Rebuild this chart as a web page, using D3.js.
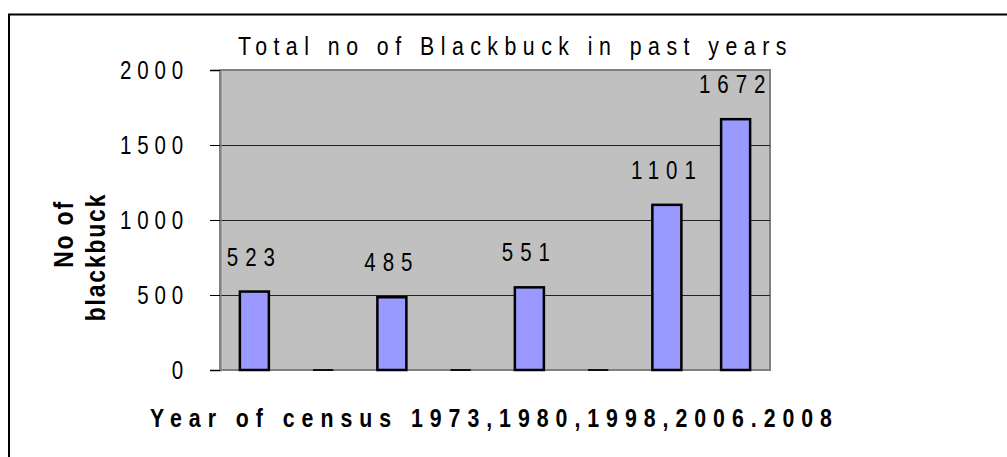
<!DOCTYPE html>
<head>
  <meta charset="utf-8">
  <script src="https://d3js.org/d3.v7.min.js"></script>
</head>
<body>
  <div id="chart"></div>

  <script>
    var width = 1007;
    var height = 457;

    // census columns (empty ones are the gaps between the census years)
    var categories = ['c1', 'c2', 'c3', 'c4', 'c5', 'c6', 'c7', 'c8'];
    var values = [523, 0, 485, 0, 551, 0, 1101, 1672];
    var yTicks = [0, 500, 1000, 1500, 2000];

    var title = 'Total no of Blackbuck in past years';
    var xTitle = 'Year of census 1973,1980,1998,2006.2008';
    var yTitle = ['No of', 'blackbuck'];

    var data = categories.map((c, i) => ({category: c, value: values[i]}));

    // no narrow font installed, so squeeze the glyphs sideways instead
    var font = "'Liberation Sans', Arial, sans-serif";
    var squeeze = 'scale(0.82,1)';

    // plot area inside the frame
    var plot = {left: 220, top: 70, right: 770, bottom: 370};

    var svg = d3.select('#chart')
      .append('svg')
        .attr('width', width)
        .attr('height', height);

    // outer frame, runs off the picture at right and bottom
    svg.append('rect')
      .attr('x', 9)
      .attr('y', 14.5)
      .attr('width', width + 20)
      .attr('height', height + 20)
      .attr('fill', 'white')
      .attr('stroke', 'black')
      .attr('stroke-width', 2);

    var x = d3.scaleBand()
      .domain(categories)
      .range([plot.left, plot.right])
      .paddingInner(0.578)
      .paddingOuter(0.289);

    var y = d3.scaleLinear()
      .domain([0, 2000])
      .range([plot.bottom, plot.top]);

    // grey plot background
    svg.append('rect')
      .attr('x', plot.left)
      .attr('y', plot.top)
      .attr('width', plot.right - plot.left)
      .attr('height', plot.bottom - plot.top)
      .attr('fill', '#c0c0c0')
      .attr('stroke', '#808080')
      .attr('stroke-width', 2);

    // gridlines
    svg.append('g')
      .selectAll('line')
      .data(yTicks.filter(t => t > 0 && t < 2000))
      .join('line')
        .attr('x1', plot.left)
        .attr('x2', plot.right)
        .attr('y1', d => Math.round(y(d)) + 0.5)
        .attr('y2', d => Math.round(y(d)) + 0.5)
        .attr('stroke', '#222')
        .attr('stroke-width', 1);

    // y axis
    var yAxis = d3.axisLeft(y)
      .tickValues(yTicks)
      .tickSize(10)
      .tickPadding(18)
      .tickFormat(d3.format('d'));

    var ya = svg.append('g')
      .attr('transform', 'translate(' + plot.left + ',0)')
      .call(yAxis);
    ya.select('.domain').attr('stroke', '#808080').attr('stroke-width', 2);
    ya.selectAll('.tick line').attr('stroke', 'black');
    ya.selectAll('.tick text')
      .attr('x', 0)
      .attr('transform', 'translate(-31,0) ' + squeeze)
      .attr('fill', 'black')
      .style('font-family', font)
      .style('font-size', '25px')
      .style('letter-spacing', '7.1px');

    // bars
    svg.append('g')
      .selectAll('rect')
      .data(data.filter(d => d.value > 0))
      .join('rect')
        .attr('x', d => x(d.category))
        .attr('y', d => y(d.value))
        .attr('width', x.bandwidth())
        .attr('height', d => y(0) - y(d.value))
        .attr('fill', '#9999ff')
        .attr('stroke', 'black')
        .attr('stroke-width', 2.5);

    // zero columns show as a little dash on the axis
    svg.append('g')
      .selectAll('line')
      .data(data.filter(d => d.value === 0))
      .join('line')
        .attr('x1', d => x(d.category) + x.bandwidth() * 0.15)
        .attr('x2', d => x(d.category) + x.bandwidth() * 0.85)
        .attr('y1', y(0))
        .attr('y2', y(0))
        .attr('stroke', '#111')
        .attr('stroke-width', 2);

    // value labels
    svg.append('g')
      .selectAll('text')
      .data(data.filter(d => d.value > 0))
      .join('text')
        .attr('transform', d => 'translate(' + (x(d.category) + x.bandwidth() / 2) + ',' + (y(d.value) - 26) + ') ' + squeeze)
        .attr('text-anchor', 'middle')
        .style('font-family', font)
        .style('font-size', '25px')
        .style('letter-spacing', '8.5px')
        .text(d => d.value);

    // title
    svg.append('text')
      .attr('transform', 'translate(238,55) ' + squeeze)
      .style('font-family', font)
      .style('font-size', '26px')
      .style('letter-spacing', '7.9px')
      .text(title);

    // x axis title
    svg.append('text')
      .attr('transform', 'translate(150,427) ' + squeeze)
      .style('font-family', font)
      .style('font-weight', 'bold')
      .style('font-size', '26px')
      .style('letter-spacing', '8.5px')
      .text(xTitle);

    // y axis title, two rotated lines
    var yLines = [{t: yTitle[0], x: 73, y: 234}, {t: yTitle[1], x: 105, y: 257}];
    svg.append('g')
      .selectAll('text')
      .data(yLines)
      .join('text')
        .attr('transform', d => 'translate(' + d.x + ',' + d.y + ') rotate(-90) ' + squeeze)
        .attr('text-anchor', 'middle')
        .style('font-family', font)
        .style('font-weight', 'bold')
        .style('font-size', '28px')
        .style('letter-spacing', '2.2px')
        .text(d => d.t);
  </script>
</body>

<style>
  body {
    margin: 0;
    background-color: white;
  }
  #chart {
    width: 1007px;
    height: 457px;
  }
</style>
